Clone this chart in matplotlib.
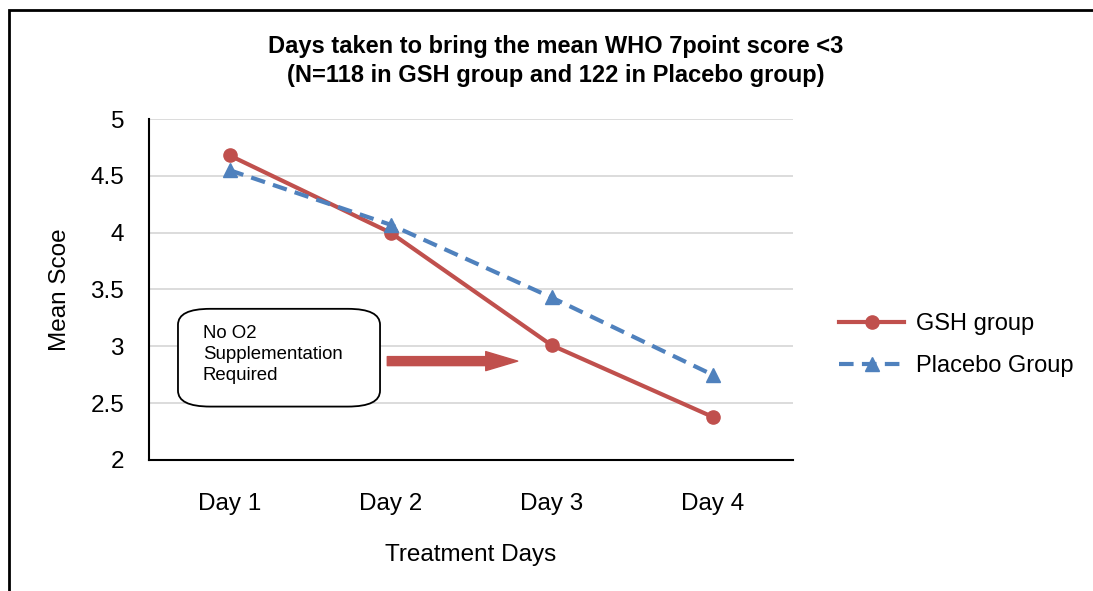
import matplotlib.pyplot as plt
from matplotlib.patches import FancyBboxPatch, Rectangle

plt.rcParams['font.family'] = ['Liberation Sans', 'DejaVu Sans']

days = ["Day 1", "Day 2", "Day 3", "Day 4"]
gsh = [4.68, 4.0, 3.01, 2.38]
placebo = [4.55, 4.07, 3.43, 2.75]

red = "#C0504D"
blue = "#4F81BD"

fig = plt.figure(figsize=(10.93, 5.91), dpi=100)
ax = fig.add_axes([149/1093, 1 - 460/591, (793-149)/1093, (460-119)/591])

x = list(range(1, len(days) + 1))
ax.plot(x, gsh, color=red, lw=3, marker='o', ms=9.5, label="GSH group")
ax.plot(x, placebo, color=blue, lw=3, ls=(0, (3.5, 2)), marker='^', ms=9.5, label="Placebo Group")

ax.set_xlim(0.5, 4.5)
ax.set_ylim(2, 5)
ax.set_yticks([2, 2.5, 3, 3.5, 4, 4.5, 5])
ax.set_yticklabels(["2", "2.5", "3", "3.5", "4", "4.5", "5"])
ax.set_xticks(x)
ax.set_xticklabels(days)
ax.tick_params(axis='both', length=0, labelsize=17.5)
ax.tick_params(axis='y', pad=18)
ax.tick_params(axis='x', pad=24)
ax.yaxis.grid(True, color='#d9d9d9', lw=1.3)
ax.set_axisbelow(True)
for s in ['top', 'right']:
    ax.spines[s].set_visible(False)
for s in ['left', 'bottom']:
    ax.spines[s].set_linewidth(1.5)

ax.set_ylabel("Mean Scoe", fontsize=17.5, labelpad=14)
ax.set_xlabel("Treatment Days", fontsize=17.5, labelpad=21)

fig.text(556/1093, 1 - 61/591, "Days taken to bring the mean WHO 7point score <3\n(N=118 in GSH group and 122 in Placebo group)",
         ha='center', va='center', fontsize=17, fontweight='bold', linespacing=1.35)

# annotation box and arrow
box = FancyBboxPatch((0.68, 2.47), 1.255, 0.86, boxstyle="round,pad=0,rounding_size=0.2",
                     transform=ax.transData, fc='white', ec='black', lw=1.3,
                     mutation_aspect=0.7, zorder=5)
ax.add_patch(box)
ax.text(0.835, 3.19, "No O2\nSupplementation\nRequired", fontsize=13.4, va='top', ha='left',
        linespacing=1.32, zorder=6)
ax.annotate("", xy=(2.79, 2.87), xytext=(1.98, 2.87),
            arrowprops=dict(arrowstyle='simple,head_width=1.37,head_length=2.3,tail_width=0.65',
                            fc=red, ec=red, shrinkA=0, shrinkB=0), zorder=6)

fig.legend(loc='center left', bbox_to_anchor=(818/1093, 1 - 345/591), frameon=False,
           fontsize=17, handlelength=2.75, labelspacing=0.85, handletextpad=0.5)

fig.patches.append(Rectangle((9/1093, -0.1), 1.2, 1 - 10/591 + 0.1, transform=fig.transFigure,
                             fill=False, ec='black', lw=2))

fig.savefig("out.png", dpi=100)
